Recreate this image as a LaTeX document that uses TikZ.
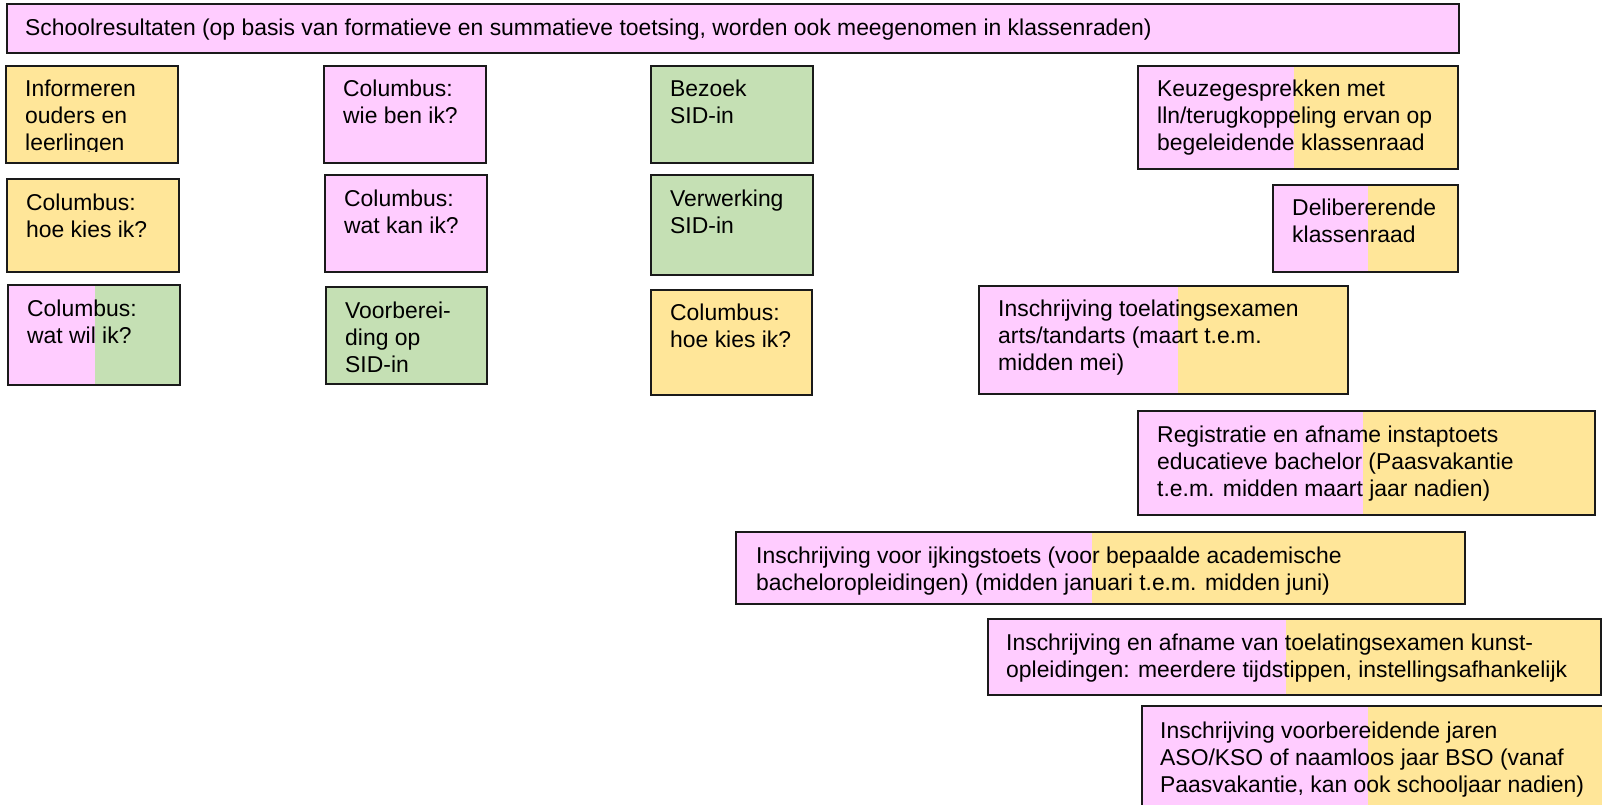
\documentclass[tikz,border=0pt]{standalone}
\usepackage{fontspec}
\setmainfont{Liberation Sans}
\definecolor{pnk}{RGB}{255,204,255}
\definecolor{ylw}{RGB}{255,230,153}
\definecolor{grn}{RGB}{197,224,180}
\definecolor{edgec}{RGB}{26,26,26}
\newcommand{\ml}[1]{\begin{tabular}[t]{@{}l@{}}#1\end{tabular}}
\tikzset{
  box/.style={draw=edgec, line width=1.8pt, rectangle, inner sep=0pt, anchor=north west},
  lbl/.style={anchor=base west, inner sep=0pt, font=\fontsize{22.9}{27}\selectfont},
  split/.style 2 args={path picture={\fill[#2] ([xshift=#1pt]path picture bounding box.north west) rectangle (path picture bounding box.south east);}},
}
\begin{document}
\begin{tikzpicture}[x=1pt,y=-1pt]
\useasboundingbox (0,0) rectangle (1602,805);
\clip (0,0) rectangle (1602,805);
% boxes
\node[box, fill=pnk, minimum width=1452pt, minimum height=49pt] (b1) at (6,3) {};
\node[box, fill=ylw, minimum width=172pt, minimum height=97pt] (b2) at (5,65) {};
\node[box, fill=ylw, minimum width=172pt, minimum height=93pt] (b3) at (6,178) {};
\node[box, fill=pnk, split={87}{grn}, minimum width=172pt, minimum height=100pt] (b4) at (7,284) {};
\node[box, fill=pnk, minimum width=162pt, minimum height=97pt] (b5) at (323,65) {};
\node[box, fill=pnk, minimum width=162pt, minimum height=97pt] (b6) at (324,174) {};
\node[box, fill=grn, minimum width=161pt, minimum height=97pt] (b7) at (325,286) {};
\node[box, fill=grn, minimum width=162pt, minimum height=97pt] (b8) at (650,65) {};
\node[box, fill=grn, minimum width=162pt, minimum height=100pt] (b9) at (650,174) {};
\node[box, fill=ylw, minimum width=161pt, minimum height=105pt] (b10) at (650,289) {};
\node[box, fill=pnk, split={156}{ylw}, minimum width=320pt, minimum height=103pt] (b11) at (1137,65) {};
\node[box, fill=pnk, split={95}{ylw}, minimum width=185pt, minimum height=87pt] (b12) at (1272,184) {};
\node[box, fill=pnk, split={199}{ylw}, minimum width=369pt, minimum height=108pt] (b13) at (978,285) {};
\node[box, fill=pnk, split={225}{ylw}, minimum width=457pt, minimum height=104pt] (b14) at (1137,410) {};
\node[box, fill=pnk, split={356}{ylw}, minimum width=729pt, minimum height=72pt] (b15) at (735,531) {};
\node[box, fill=pnk, split={298}{ylw}, minimum width=613pt, minimum height=76pt] (b16) at (987,618) {};
\node[box, fill=pnk, split={226}{ylw}, minimum width=480pt, minimum height=110pt] (b17) at (1141,705) {};
% labels
\node[lbl] (t1) at (25,36) {Schoolresultaten (op basis van formatieve en summatieve toetsing, worden ook meegenomen in klassenraden)};
\begin{scope}
\clip (0,0) rectangle (200,152);
\node[lbl] (t2) at (25,97) {\ml{Informeren\\ouders en\\leerlingen}};
\end{scope}
\node[lbl] (t3) at (26,210) {\ml{Columbus:\\hoe kies ik?}};
\node[lbl] (t4) at (27,316) {\ml{Columbus:\\wat wil ik?}};
\node[lbl] (t5) at (343,97) {\ml{Columbus:\\wie ben ik?}};
\node[lbl] (t6) at (344,206) {\ml{Columbus:\\wat kan ik?}};
\node[lbl] (t7) at (345,318) {\ml{Voorberei-\\ding op\\SID-in}};
\node[lbl] (t8) at (670,97) {\ml{Bezoek\\SID-in}};
\node[lbl] (t9) at (670,206) {\ml{Verwerking\\SID-in}};
\node[lbl] (t10) at (670,320) {\ml{Columbus:\\hoe kies ik?}};
\node[lbl] (t11) at (1157,97) {\ml{Keuzegesprekken met\\lln/terugkoppeling ervan op\\begeleidende klassenraad}};
\node[lbl] (t12) at (1292,215) {\ml{Delibererende\\klassenraad}};
\node[lbl] (t13) at (998,316) {\ml{Inschrijving toelatingsexamen\\arts/tandarts (maart t.e.m.\\midden mei)}};
\node[lbl] (t14) at (1157,442) {\ml{Registratie en afname instaptoets\\educatieve bachelor (Paasvakantie\\t.e.m. midden maart jaar nadien)}};
\node[lbl] (t15) at (756,563) {\ml{Inschrijving voor ijkingstoets (voor bepaalde academische\\bacheloropleidingen) (midden januari t.e.m. midden juni)}};
\node[lbl] (t16) at (1006,650) {\ml{Inschrijving en afname van toelatingsexamen kunst-\\opleidingen: meerdere tijdstippen, instellingsafhankelijk}};
\node[lbl] (t17) at (1160,738) {\ml{Inschrijving voorbereidende jaren\\ASO/KSO of naamloos jaar BSO (vanaf\\Paasvakantie, kan ook schooljaar nadien)}};
\end{tikzpicture}
\end{document}
